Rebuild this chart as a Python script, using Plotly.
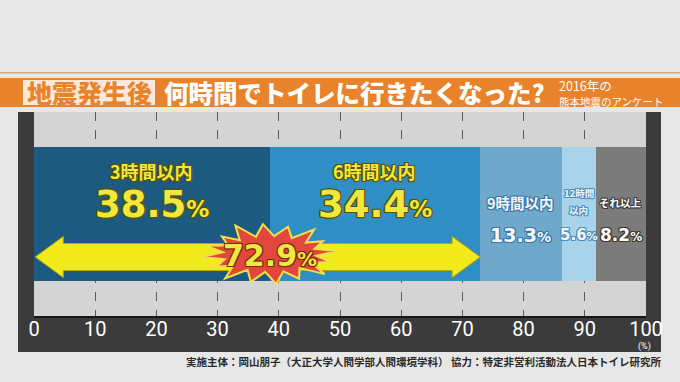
import numpy as np
import plotly.graph_objects as go

# ---------------- data ----------------
categories = ["3時間以内", "6時間以内", "9時間以内", "12時間以内", "それ以上"]
display_labels = ["3時間以内", "6時間以内", "9時間以内", "12時間<br>以内", "それ以上"]
values = [38.5, 34.4, 13.3, 5.6, 8.2]
tick_values = [0, 10, 20, 30, 40, 50, 60, 70, 80, 90, 100]
tick_labels = ["0", "10", "20", "30", "40", "50", "60", "70", "80", "90", "100"]

title_highlight = "地震発生後"
title_main = "何時間でトイレに行きたくなった?"
subtitle_1 = "2016年の"
subtitle_2 = "熊本地震のアンケート"
footer = "実施主体：岡山朋子（大正大学人間学部人間環境学科） 協力：特定非営利活動法人日本トイレ研究所"

# ---------------- layout geometry ----------------
W_FIG, H_FIG = 680, 382
L, R, T, B = 34, 34, 112, 66
PW = W_FIG - L - R
PH = H_FIG - T - B


def px(x):
    return (x - L) / PW


def py(y):
    return (T + PH - y) / PH


def yd(y):  # pixel y -> data y (range -0.5..0.5)
    return 0.5 - (y - T) / PH


def xd_per_px():
    return 100.0 / PW


colors = ["#1c5a80", "#2f8ec3", "#6fa8cb", "#a8d3ea", "#7b7b7b"]
JP = "Noto Sans CJK JP"
NUM = "DejaVu Sans"
YELLOW = "#f2e73e"


def outline(c, w=1):
    parts = []
    for dx, dy in [(w, 0), (-w, 0), (0, w), (0, -w), (w, w), (-w, -w), (w, -w), (-w, w)]:
        parts.append(f"{dx}px {dy}px 0px {c}")
    return ", ".join(parts)


fig = go.Figure()
starts = np.concatenate([[0], np.cumsum(values)[:-1]])
for cat, v, c in zip(categories, values, colors):
    fig.add_trace(go.Bar(
        y=[0], x=[v], name=cat, orientation="h", width=0.66,
        marker=dict(color=c, line=dict(width=0)), hoverinfo="skip",
        showlegend=False,
    ))

shapes = []
annotations = []

# background panels
shapes.append(dict(type="rect", xref="paper", yref="paper", x0=px(18), x1=px(661),
                   y0=py(352), y1=py(112), fillcolor="#3b3b3b", line=dict(width=0), layer="below"))
shapes.append(dict(type="rect", xref="paper", yref="paper", x0=0, x1=1,
                   y0=0, y1=1, fillcolor="#d4d4d4", line=dict(width=0), layer="below"))
# title band
shapes.append(dict(type="rect", xref="paper", yref="paper", x0=px(0), x1=px(680),
                   y0=py(73.5), y1=py(72), fillcolor="#efa266", line=dict(width=0), layer="below"))
shapes.append(dict(type="rect", xref="paper", yref="paper", x0=px(0), x1=px(680),
                   y0=py(107), y1=py(78), fillcolor="#e8832c", line=dict(width=0), layer="below"))
shapes.append(dict(type="rect", xref="paper", yref="paper", x0=px(23), x1=px(155),
                   y0=py(105), y1=py(80), fillcolor="#fbeadb", line=dict(width=0), layer="below"))

# double arrow spanning first two categories
total = values[0] + values[1]
yc = yd(257)
sh = 13.5 / PH
hh = 20.5 / PH
hl = 28 * xd_per_px()
x0a, x1a = 0.2, total
arrow = (f"M {x0a},{yc} L {x0a+hl},{yc+hh} L {x0a+hl},{yc+sh} L {x1a-hl},{yc+sh} "
         f"L {x1a-hl},{yc+hh} L {x1a},{yc} L {x1a-hl},{yc-hh} L {x1a-hl},{yc-sh} "
         f"L {x0a+hl},{yc-sh} L {x0a+hl},{yc-hh} Z")
shapes.append(dict(type="path", xref="x", yref="y", path=arrow, fillcolor="#f3ea1c",
                   line=dict(color="#b9a800", width=1), layer="above"))

# starburst at the boundary
cx = values[0]
cy = yd(254)
rx_o, ry_o = 67 * xd_per_px(), 30 / PH
rx_i, ry_i = 47 * xd_per_px(), 18 / PH
spike = [1.0, 0.9, 1.05, 0.95, 1.0, 1.08, 0.92, 1.0, 1.02, 0.9, 1.05, 0.97, 1.0, 0.93, 1.06, 0.96]
n = len(spike)
pts = []
for i in range(n):
    a = 2 * np.pi * i / n + 0.1
    pts.append((cx + rx_o * spike[i] * np.cos(a), cy + ry_o * spike[i] * np.sin(a)))
    a2 = a + np.pi / n
    pts.append((cx + rx_i * np.cos(a2), cy + ry_i * np.sin(a2)))
star = "M " + " L ".join(f"{x:.3f},{y:.4f}" for x, y in pts) + " Z"
shapes.append(dict(type="path", xref="x", yref="y", path=star, fillcolor="#e1473a",
                   line=dict(color="#f0e14a", width=2), layer="above"))

# ---------------- bar labels ----------------
centers = starts + np.array(values) / 2
label_cfg = [
    dict(ly=171, lsize=18, lgap=0, vy=204, vsize=37, psize=23, col=YELLOW, oc="#5a5200"),
    dict(ly=171, lsize=18, lgap=0, vy=204, vsize=37, psize=23, col=YELLOW, oc="#5a5200"),
    dict(ly=202, lsize=14.5, lgap=0, vy=235, vsize=19, psize=14, col="#f4f8fb", oc="#3a79a6"),
    dict(ly=193, lsize=9.5, lgap=17, vy=235, vsize=15, psize=11, col="#f4f8fb", oc="#4a8fbd"),
    dict(ly=202, lsize=10.5, lgap=0, vy=235, vsize=17, psize=12, col="#ffffff", oc="#3a3a3a"),
]
for lab, v, cxp, cfg in zip(display_labels, values, centers, label_cfg):
    for k, line in enumerate(lab.split("<br>")):
        annotations.append(dict(
            x=cxp, y=yd(cfg["ly"] + k * cfg["lgap"]), xref="x", yref="y",
            xanchor="center", yanchor="middle",
            text=line, showarrow=False, borderpad=0,
            font=dict(family=JP, size=cfg["lsize"], color=cfg["col"], weight="bold",
                      shadow=outline(cfg["oc"])),
        ))
    annotations.append(dict(
        x=cxp, y=yd(cfg["vy"]), xref="x", yref="y", xanchor="center", yanchor="middle",
        text=f"{v:.1f}<span style='font-size:{cfg['psize']}px'>%</span>", showarrow=False,
        font=dict(family=NUM, size=cfg["vsize"], color=cfg["col"], weight="bold",
                  shadow=outline(cfg["oc"])),
    ))

annotations.append(dict(
    x=cx, y=yd(255), xref="x", yref="y", xanchor="center", yanchor="middle",
    text=f"{total:.1f}<span style='font-size:20px'>%</span>", showarrow=False,
    font=dict(family=NUM, size=30, color=YELLOW, weight="bold", shadow=outline("#7a2a10")),
))

# ---------------- title texts ----------------
def ann(x, y, text, xanchor="center", **font):
    annotations.append(dict(x=px(x), y=py(y), xref="paper", yref="paper", xanchor=xanchor,
                            yanchor="middle", text=text, showarrow=False, font=font))


ann(89, 92.5, title_highlight, family=JP, size=25, color="#e8832c", weight=900)
ann(162, 92.5, title_main, xanchor="left", family=JP, size=24.5, color="#ffffff", weight=900)
ann(557, 85, subtitle_1, xanchor="left", family=JP, size=12.5, color="#ffffff")
ann(557, 101, subtitle_2, xanchor="left", family=JP, size=10.5, color="#ffffff")
ann(644, 346, "(%)", family="Roboto", size=9, color="#ffffff")
ann(663, 361, footer, xanchor="right", family=JP, size=10.5, color="#2a2a2a", weight="bold")

fig.update_layout(
    width=W_FIG, height=H_FIG,
    margin=dict(l=L, r=R, t=T, b=B, pad=0),
    paper_bgcolor="#e7e7e7", plot_bgcolor="#d4d4d4",
    barmode="stack", bargap=0,
    shapes=shapes, annotations=annotations,
    xaxis=dict(range=[0, 100], tickvals=tick_values, ticktext=tick_labels,
               showgrid=False, zeroline=False, showline=True, linecolor="#161616", linewidth=2,
               ticks="", tickfont=dict(family="Roboto", size=20, color="#ffffff"),
               ticklabelstandoff=-6, automargin=False,
               minor=dict(tickvals=tick_values[1:-1], showgrid=True, gridcolor="#5a5a5a",
                          griddash="dash", gridwidth=1, ticks=""),
               fixedrange=True),
    yaxis=dict(range=[-0.5, 0.5], visible=False, fixedrange=True),
    showlegend=False,
)

fig.write_html("out.html", config={"displayModeBar": False},
               post_script="document.body.style.margin='0';document.body.style.overflow='hidden';")
